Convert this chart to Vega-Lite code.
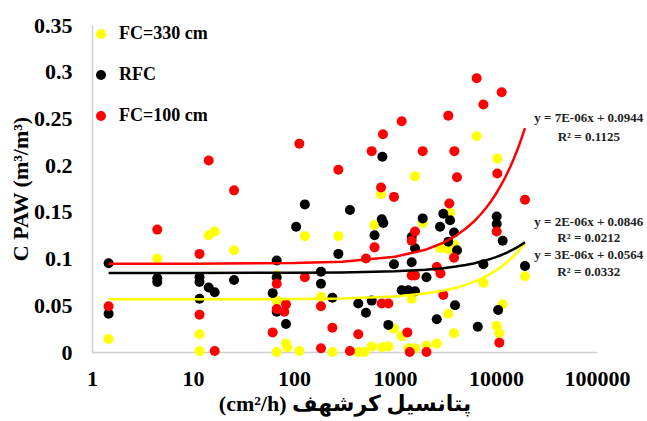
{
  "$schema": "https://vega.github.io/schema/vega-lite/v6.json",
  "width": 505,
  "height": 327,
  "autosize": "none",
  "padding": {"left": 92, "top": 25, "right": 50, "bottom": 69},
  "background": "white",
  "config": {"view": {"stroke": null}, "font": "Liberation Serif"},
  "datasets": {
    "pts": [
      {"s":"FC=330 cm","x":1.46,"y":0.014},{"s":"FC=330 cm","x":4.43,"y":0.100},{"s":"FC=330 cm","x":11.6,"y":0.019},{"s":"FC=330 cm","x":11.6,"y":0.001},{"s":"FC=330 cm","x":14.3,"y":0.125},{"s":"FC=330 cm","x":16.4,"y":0.129},{"s":"FC=330 cm","x":25.5,"y":0.109},{"s":"FC=330 cm","x":67.4,"y":0.082},{"s":"FC=330 cm","x":67.4,"y":0.055},{"s":"FC=330 cm","x":67.4,"y":0.0},{"s":"FC=330 cm","x":83.3,"y":0.009},{"s":"FC=330 cm","x":86,"y":0.005},{"s":"FC=330 cm","x":113,"y":0.001},{"s":"FC=330 cm","x":128,"y":0.124},{"s":"FC=330 cm","x":185,"y":0.059},{"s":"FC=330 cm","x":240,"y":0.0},{"s":"FC=330 cm","x":275,"y":0.124},{"s":"FC=330 cm","x":433,"y":0.0},{"s":"FC=330 cm","x":500,"y":0.0},{"s":"FC=330 cm","x":588,"y":0.006},{"s":"FC=330 cm","x":740,"y":0.005},{"s":"FC=330 cm","x":627,"y":0.136},{"s":"FC=330 cm","x":727,"y":0.169},{"s":"FC=330 cm","x":860,"y":0.006},{"s":"FC=330 cm","x":977,"y":0.025},{"s":"FC=330 cm","x":1165,"y":0.017},{"s":"FC=330 cm","x":1355,"y":0.004},{"s":"FC=330 cm","x":1463,"y":0.057},{"s":"FC=330 cm","x":1578,"y":0.188},{"s":"FC=330 cm","x":1578,"y":0.004},{"s":"FC=330 cm","x":1880,"y":0.138},{"s":"FC=330 cm","x":2050,"y":0.007},{"s":"FC=330 cm","x":2590,"y":0.009},{"s":"FC=330 cm","x":2820,"y":0.111},{"s":"FC=330 cm","x":3370,"y":0.041},{"s":"FC=330 cm","x":3370,"y":0.110},{"s":"FC=330 cm","x":3510,"y":0.149},{"s":"FC=330 cm","x":3840,"y":0.020},{"s":"FC=330 cm","x":3840,"y":0.115},{"s":"FC=330 cm","x":6440,"y":0.231},{"s":"FC=330 cm","x":7500,"y":0.074},{"s":"FC=330 cm","x":10160,"y":0.028},{"s":"FC=330 cm","x":10300,"y":0.207},{"s":"FC=330 cm","x":10790,"y":0.020},{"s":"FC=330 cm","x":11650,"y":0.051},{"s":"FC=330 cm","x":19360,"y":0.081},
      {"s":"RFC","x":1.46,"y":0.095},{"s":"RFC","x":1.46,"y":0.041},{"s":"RFC","x":4.43,"y":0.079},{"s":"RFC","x":4.43,"y":0.075},{"s":"RFC","x":11.6,"y":0.080},{"s":"RFC","x":11.6,"y":0.075},{"s":"RFC","x":11.6,"y":0.057},{"s":"RFC","x":14.3,"y":0.069},{"s":"RFC","x":16.4,"y":0.064},{"s":"RFC","x":25.5,"y":0.077},{"s":"RFC","x":61.5,"y":0.063},{"s":"RFC","x":67.4,"y":0.098},{"s":"RFC","x":67.4,"y":0.080},{"s":"RFC","x":67.4,"y":0.043},{"s":"RFC","x":83.3,"y":0.030},{"s":"RFC","x":105,"y":0.134},{"s":"RFC","x":128,"y":0.158},{"s":"RFC","x":185,"y":0.086},{"s":"RFC","x":185,"y":0.073},{"s":"RFC","x":240,"y":0.058},{"s":"RFC","x":275,"y":0.105},{"s":"RFC","x":358,"y":0.152},{"s":"RFC","x":433,"y":0.052},{"s":"RFC","x":516,"y":0.042},{"s":"RFC","x":588,"y":0.055},{"s":"RFC","x":627,"y":0.125},{"s":"RFC","x":750,"y":0.209},{"s":"RFC","x":740,"y":0.142},{"s":"RFC","x":766,"y":0.138},{"s":"RFC","x":859,"y":0.029},{"s":"RFC","x":977,"y":0.094},{"s":"RFC","x":1165,"y":0.066},{"s":"RFC","x":1355,"y":0.066},{"s":"RFC","x":1463,"y":0.123},{"s":"RFC","x":1463,"y":0.096},{"s":"RFC","x":1578,"y":0.111},{"s":"RFC","x":1578,"y":0.065},{"s":"RFC","x":1880,"y":0.143},{"s":"RFC","x":2050,"y":0.080},{"s":"RFC","x":2590,"y":0.035},{"s":"RFC","x":2790,"y":0.134},{"s":"RFC","x":3010,"y":0.148},{"s":"RFC","x":3370,"y":0.118},{"s":"RFC","x":3510,"y":0.141},{"s":"RFC","x":3840,"y":0.128},{"s":"RFC","x":4110,"y":0.109},{"s":"RFC","x":3930,"y":0.050},{"s":"RFC","x":6600,"y":0.027},{"s":"RFC","x":7500,"y":0.094},{"s":"RFC","x":10160,"y":0.145},{"s":"RFC","x":10160,"y":0.137},{"s":"RFC","x":10500,"y":0.045},{"s":"RFC","x":11650,"y":0.119},{"s":"RFC","x":19360,"y":0.092},
      {"s":"FC=100 cm","x":1.46,"y":0.049},{"s":"FC=100 cm","x":4.43,"y":0.131},{"s":"FC=100 cm","x":11.6,"y":0.105},{"s":"FC=100 cm","x":11.6,"y":0.040},{"s":"FC=100 cm","x":14.3,"y":0.205},{"s":"FC=100 cm","x":16.4,"y":0.001},{"s":"FC=100 cm","x":25.5,"y":0.173},{"s":"FC=100 cm","x":61.5,"y":0.021},{"s":"FC=100 cm","x":67.4,"y":0.073},{"s":"FC=100 cm","x":67.4,"y":0.046},{"s":"FC=100 cm","x":80.2,"y":0.043},{"s":"FC=100 cm","x":83.3,"y":0.051},{"s":"FC=100 cm","x":113,"y":0.223},{"s":"FC=100 cm","x":128,"y":0.080},{"s":"FC=100 cm","x":185,"y":0.049},{"s":"FC=100 cm","x":185,"y":0.004},{"s":"FC=100 cm","x":240,"y":0.026},{"s":"FC=100 cm","x":275,"y":0.195},{"s":"FC=100 cm","x":358,"y":0.001},{"s":"FC=100 cm","x":433,"y":0.019},{"s":"FC=100 cm","x":516,"y":0.100},{"s":"FC=100 cm","x":588,"y":0.215},{"s":"FC=100 cm","x":627,"y":0.112},{"s":"FC=100 cm","x":727,"y":0.176},{"s":"FC=100 cm","x":760,"y":0.233},{"s":"FC=100 cm","x":740,"y":0.052},{"s":"FC=100 cm","x":859,"y":0.052},{"s":"FC=100 cm","x":977,"y":0.166},{"s":"FC=100 cm","x":1165,"y":0.247},{"s":"FC=100 cm","x":1325,"y":0.021},{"s":"FC=100 cm","x":1400,"y":0.0},{"s":"FC=100 cm","x":1463,"y":0.119},{"s":"FC=100 cm","x":1463,"y":0.082},{"s":"FC=100 cm","x":1578,"y":0.129},{"s":"FC=100 cm","x":1578,"y":0.082},{"s":"FC=100 cm","x":1880,"y":0.215},{"s":"FC=100 cm","x":2050,"y":0.0},{"s":"FC=100 cm","x":2590,"y":0.091},{"s":"FC=100 cm","x":2820,"y":0.084},{"s":"FC=100 cm","x":3010,"y":0.061},{"s":"FC=100 cm","x":3370,"y":0.253},{"s":"FC=100 cm","x":3450,"y":0.159},{"s":"FC=100 cm","x":3840,"y":0.101},{"s":"FC=100 cm","x":3870,"y":0.215},{"s":"FC=100 cm","x":4110,"y":0.187},{"s":"FC=100 cm","x":6440,"y":0.293},{"s":"FC=100 cm","x":7500,"y":0.265},{"s":"FC=100 cm","x":10160,"y":0.129},{"s":"FC=100 cm","x":10300,"y":0.191},{"s":"FC=100 cm","x":10790,"y":0.010},{"s":"FC=100 cm","x":11380,"y":0.278},{"s":"FC=100 cm","x":19360,"y":0.163}
    ],
    "trend": [
      {"s":"FC=330 cm","x":1.46,"y":0.0564},{"s":"FC=330 cm","x":10,"y":0.0564},{"s":"FC=330 cm","x":100,"y":0.0567},{"s":"FC=330 cm","x":300,"y":0.0573},{"s":"FC=330 cm","x":1000,"y":0.0595},{"s":"FC=330 cm","x":2000,"y":0.0626},{"s":"FC=330 cm","x":3000,"y":0.0657},{"s":"FC=330 cm","x":4000,"y":0.0688},{"s":"FC=330 cm","x":5000,"y":0.0719},{"s":"FC=330 cm","x":6000,"y":0.0750},{"s":"FC=330 cm","x":7000,"y":0.0781},{"s":"FC=330 cm","x":8000,"y":0.0812},{"s":"FC=330 cm","x":9000,"y":0.0843},{"s":"FC=330 cm","x":10000,"y":0.0874},{"s":"FC=330 cm","x":11000,"y":0.0905},{"s":"FC=330 cm","x":12000,"y":0.0936},{"s":"FC=330 cm","x":13000,"y":0.0967},{"s":"FC=330 cm","x":14000,"y":0.0998},{"s":"FC=330 cm","x":15000,"y":0.1029},{"s":"FC=330 cm","x":16000,"y":0.1060},{"s":"FC=330 cm","x":17000,"y":0.1091},{"s":"FC=330 cm","x":18000,"y":0.1122},{"s":"FC=330 cm","x":19360,"y":0.1164},
      {"s":"RFC","x":1.46,"y":0.0846},{"s":"RFC","x":10,"y":0.0846},{"s":"RFC","x":100,"y":0.0848},{"s":"RFC","x":300,"y":0.0851},{"s":"RFC","x":1000,"y":0.0863},{"s":"RFC","x":2000,"y":0.0880},{"s":"RFC","x":3000,"y":0.0897},{"s":"RFC","x":4000,"y":0.0914},{"s":"RFC","x":5000,"y":0.0931},{"s":"RFC","x":6000,"y":0.0948},{"s":"RFC","x":7000,"y":0.0965},{"s":"RFC","x":8000,"y":0.0982},{"s":"RFC","x":9000,"y":0.0999},{"s":"RFC","x":10000,"y":0.1016},{"s":"RFC","x":11000,"y":0.1033},{"s":"RFC","x":12000,"y":0.1050},{"s":"RFC","x":13000,"y":0.1067},{"s":"RFC","x":14000,"y":0.1084},{"s":"RFC","x":15000,"y":0.1101},{"s":"RFC","x":16000,"y":0.1118},{"s":"RFC","x":17000,"y":0.1135},{"s":"RFC","x":18000,"y":0.1152},{"s":"RFC","x":19360,"y":0.1175},
      {"s":"FC=100 cm","x":1.46,"y":0.0944},{"s":"FC=100 cm","x":10,"y":0.0945},{"s":"FC=100 cm","x":100,"y":0.0952},{"s":"FC=100 cm","x":300,"y":0.0967},{"s":"FC=100 cm","x":1000,"y":0.1019},{"s":"FC=100 cm","x":2000,"y":0.1094},{"s":"FC=100 cm","x":3000,"y":0.1169},{"s":"FC=100 cm","x":4000,"y":0.1244},{"s":"FC=100 cm","x":5000,"y":0.1319},{"s":"FC=100 cm","x":6000,"y":0.1394},{"s":"FC=100 cm","x":7000,"y":0.1469},{"s":"FC=100 cm","x":8000,"y":0.1544},{"s":"FC=100 cm","x":9000,"y":0.1619},{"s":"FC=100 cm","x":10000,"y":0.1694},{"s":"FC=100 cm","x":11000,"y":0.1769},{"s":"FC=100 cm","x":12000,"y":0.1844},{"s":"FC=100 cm","x":13000,"y":0.1919},{"s":"FC=100 cm","x":14000,"y":0.1994},{"s":"FC=100 cm","x":15000,"y":0.2069},{"s":"FC=100 cm","x":16000,"y":0.2144},{"s":"FC=100 cm","x":17000,"y":0.2219},{"s":"FC=100 cm","x":18000,"y":0.2294},{"s":"FC=100 cm","x":19360,"y":0.2396}
    ],
    "labels": [
      {"x":83000,"y":0.2505,"t":"y = 7E-06x + 0.0944"},
      {"x":83000,"y":0.2300,"t":"R² = 0.1125"},
      {"x":83000,"y":0.1390,"t":"y = 2E-06x + 0.0846"},
      {"x":83000,"y":0.1219,"t":"R² = 0.0212"},
      {"x":83000,"y":0.1036,"t":"y = 3E-06x + 0.0564"},
      {"x":83000,"y":0.0854,"t":"R² = 0.0332"}
    ]
  },
  "encoding": {
    "x": {"field": "x", "type": "quantitative",
      "scale": {"type": "log", "domain": [1, 100000]},
      "axis": {"values": [1, 10, 100, 1000, 10000, 100000], "format": "d", "grid": false, "ticks": false,
        "domainColor": "#d0d0d0", "domainWidth": 1.5,
        "labelFont": "Liberation Serif", "labelFontWeight": "bold", "labelFontSize": 22, "labelColor": "#000",
        "labelPadding": 16, "labelFlush": false,
        "title": "(cm²/h) پتانسیل کرشهف", "titleFont": "Liberation Serif, DejaVu Sans", "titleFontWeight": "bold",
        "titleFontSize": 22, "titleColor": "#000", "titlePadding": 4}},
    "y": {"field": "y", "type": "quantitative",
      "scale": {"domain": [0, 0.35], "nice": false},
      "axis": {"values": [0, 0.05, 0.1, 0.15, 0.2, 0.25, 0.3, 0.35], "format": ".2~f", "grid": false, "ticks": false,
        "domainColor": "#d0d0d0", "domainWidth": 1.5,
        "labelFont": "Liberation Serif", "labelFontWeight": "bold", "labelFontSize": 22, "labelColor": "#000",
        "labelPadding": 20,
        "title": "C PAW (m³/m³)", "titleFont": "Liberation Serif", "titleFontWeight": "bold",
        "titleFontSize": 22, "titleColor": "#000", "titlePadding": 1}}
  },
  "layer": [
    {
      "data": {"name": "pts"},
      "mark": {"type": "point", "filled": true, "opacity": 1, "size": 100, "shape": "circle"},
      "encoding": {
        "color": {"field": "s", "type": "nominal",
          "scale": {"domain": ["FC=330 cm", "RFC", "FC=100 cm"], "range": ["#FFFF00", "#000000", "#FF0000"]},
          "legend": {"title": null, "orient": "none", "legendX": 0, "legendY": 0, "padding": 0,
            "labelFont": "Liberation Serif", "labelFontWeight": "bold", "labelFontSize": 18, "labelColor": "#000",
            "labelOffset": 9, "rowPadding": 23, "symbolSize": 100, "symbolType": "circle", "symbolStrokeWidth": 0}}
      }
    },
    {
      "data": {"name": "trend"},
      "mark": {"type": "line", "strokeWidth": 2.5},
      "encoding": {
        "color": {"field": "s", "type": "nominal",
          "scale": {"domain": ["FC=330 cm", "RFC", "FC=100 cm"], "range": ["#FFFF00", "#000000", "#FF0000"]},
          "legend": null}
      }
    },
    {
      "data": {"name": "labels"},
      "mark": {"type": "text", "font": "Liberation Serif", "fontWeight": "bold", "fontSize": 13, "align": "center", "baseline": "middle", "color": "#222"},
      "encoding": {"text": {"field": "t"}}
    }
  ],
  "resolve": {"scale": {"color": "independent"}, "legend": {"color": "independent"}}
}
